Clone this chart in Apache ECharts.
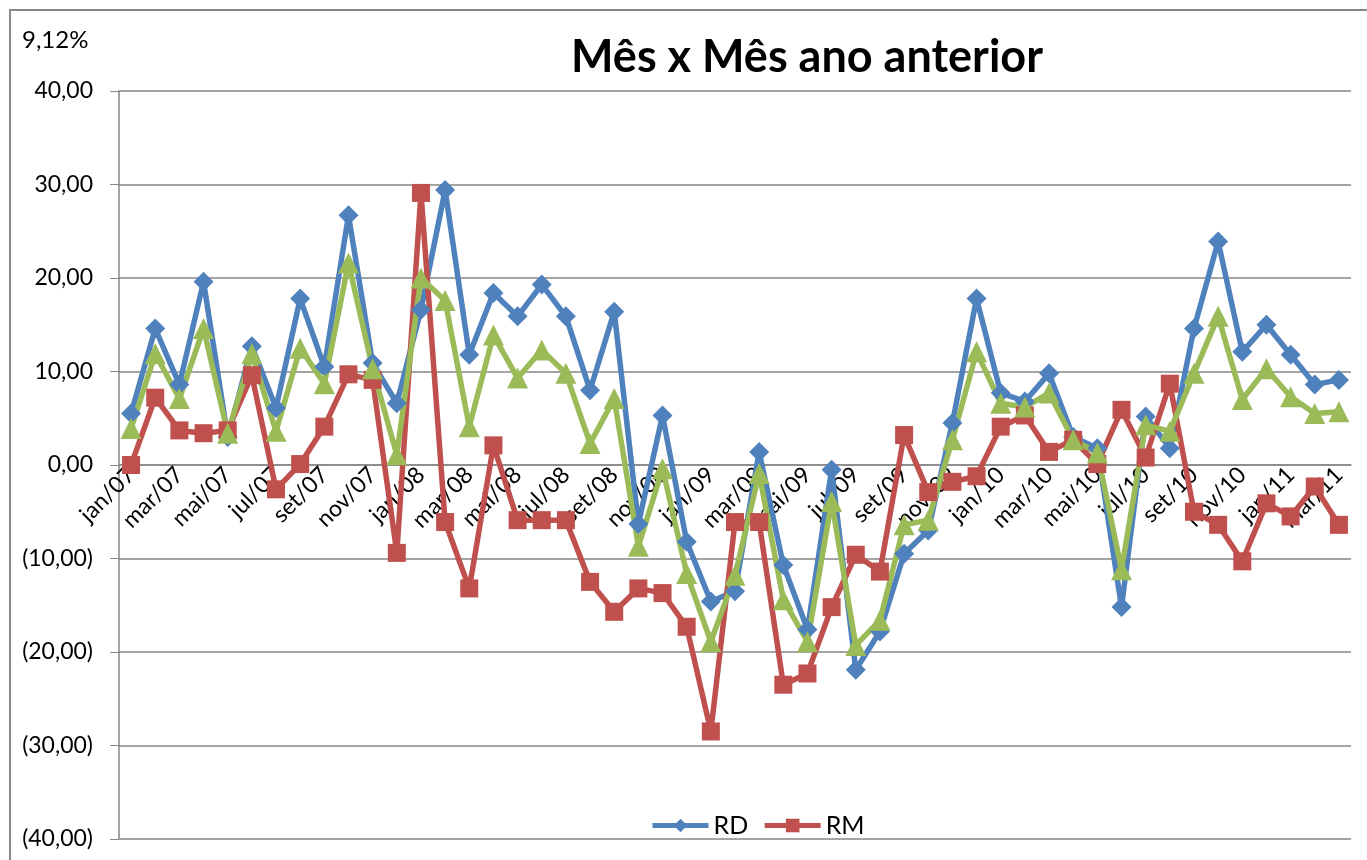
<!DOCTYPE html>
<html>
<head>
<meta charset="utf-8">
<script src="https://cdn.jsdelivr.net/npm/echarts@6/dist/echarts.min.js"></script>
<style>
  html, body { margin: 0; padding: 0; background: #fff; }
  #chart { width: 1367px; height: 860px; }
</style>
</head>
<body>
<div id="chart"></div>
<script>
var chart = echarts.init(document.getElementById('chart'));

var meses = ['jan', 'fev', 'mar', 'abr', 'mai', 'jun', 'jul', 'ago', 'set', 'out', 'nov', 'dez'];
var anos = ['07', '08', '09', '10', '11'];

// jan/07 .. mar/11
var categorias = [];
for (var a = 0; a < anos.length; a++) {
  for (var m = 0; m < 12; m++) {
    if (a == 4 && m > 2) break;
    categorias.push(meses[m] + '/' + anos[a]);
  }
}

var rd = [5.5, 14.6, 8.6, 19.6, 3.0, 12.7, 6.1, 17.8, 10.5, 26.7, 10.9, 6.6,
  16.6, 29.4, 11.8, 18.4, 15.9, 19.3, 15.9, 8.0, 16.4, -6.3, 5.3, -8.2,
  -14.6, -13.5, 1.4, -10.7, -17.6, -0.5, -21.9, -17.8, -9.5, -7.0, 4.5, 17.8,
  7.7, 6.8, 9.8, 3.0, 1.8, -15.2, 5.2, 1.8, 14.6, 23.9, 12.1, 15.0,
  11.8, 8.6, 9.1];

var rm = [0.0, 7.2, 3.7, 3.4, 3.7, 9.6, -2.6, 0.1, 4.1, 9.7, 9.1, -9.4,
  29.1, -6.1, -13.2, 2.1, -5.9, -5.9, -5.9, -12.5, -15.7, -13.2, -13.7, -17.3,
  -28.5, -6.1, -6.1, -23.5, -22.3, -15.2, -9.6, -11.4, 3.2, -2.9, -1.8, -1.2,
  4.1, 5.3, 1.4, 2.7, 0.1, 5.9, 0.8, 8.7, -5.0, -6.4, -10.3, -4.1,
  -5.5, -2.3, -6.4];

var total = [3.9, 11.9, 7.1, 14.6, 3.4, 11.9, 3.6, 12.5, 8.7, 21.6, 10.3, 1.1,
  20.0, 17.6, 4.1, 13.9, 9.3, 12.3, 9.8, 2.3, 7.1, -8.7, -0.4, -11.6,
  -18.9, -11.8, -0.9, -14.4, -18.9, -3.9, -19.3, -16.6, -6.4, -5.9, 2.7, 12.1,
  6.6, 6.2, 7.7, 2.7, 1.3, -11.2, 4.3, 3.6, 9.8, 15.9, 7.0, 10.3,
  7.3, 5.5, 5.7];

var eixoCor = '#868686';
var fonte = 'Lato, "Open Sans", sans-serif';

function formataValor(v) {
  var s = Math.abs(v).toFixed(2).replace('.', ',');
  return v < 0 ? '(' + s + ')' : s;
}

function serie(nome, dados, cor, simbolo, tam) {
  return {
    name: nome,
    type: 'line',
    data: dados,
    symbol: simbolo,
    symbolSize: tam,
    showAllSymbol: true,
    lineStyle: { color: cor, width: 5.5 },
    itemStyle: { color: cor },
    emphasis: { disabled: true },
    animation: false
  };
}

var option = {
  textStyle: { fontFamily: fonte },
  title: {
    text: 'Mês x Mês ano anterior',
    left: 802,
    textAlign: 'center',
    top: 30,
    textStyle: { fontSize: 45, fontWeight: 'bold', color: '#000', fontFamily: fonte }
  },
  graphic: [
    {
      type: 'rect',
      shape: { x: 10, y: 10, width: 1400, height: 900 },
      style: { fill: 'none', stroke: '#888', lineWidth: 2 },
      silent: true
    },
    {
      type: 'text',
      left: 22,
      top: 28,
      style: { text: '9,12%', fontSize: 24, fill: '#000', fontFamily: fonte }
    }
  ],
  legend: {
    data: ['RD', 'RM'],
    left: 645,
    top: 808,
    itemWidth: 56,
    itemHeight: 17,
    itemGap: 14,
    lineStyle: { width: 5 },
    textStyle: { fontSize: 25, color: '#000', fontFamily: fonte }
  },
  grid: { left: 119, right: 16, top: 91, bottom: 21, outerBoundsMode: 'none' },
  xAxis: {
    type: 'category',
    data: categorias,
    boundaryGap: true,
    offset: -374,
    axisLine: { onZero: false, lineStyle: { color: eixoCor, width: 1.5 } },
    axisTick: { interval: 1, length: 8, lineStyle: { color: eixoCor } },
    axisLabel: { interval: 1, rotate: 45, fontSize: 23, color: '#000', margin: 6, fontFamily: fonte },
    splitLine: { show: false }
  },
  yAxis: {
    type: 'value',
    min: -40,
    max: 40,
    interval: 10,
    axisLine: { show: true, lineStyle: { color: eixoCor, width: 1.5 } },
    axisTick: { show: true, length: 9, lineStyle: { color: eixoCor } },
    axisLabel: { formatter: formataValor, fontSize: 23, color: '#000', margin: 26, fontFamily: fonte },
    splitLine: { lineStyle: { color: eixoCor, width: 1.5 } }
  },
  series: [
    serie('RD', rd, '#4F81BD', 'diamond', 20),
    serie('RM', rm, '#C0504D', 'rect', 18),
    serie('Total', total, '#9BBB59', 'triangle', 21)
  ]
};

chart.setOption(option);
</script>
</body>
</html>
